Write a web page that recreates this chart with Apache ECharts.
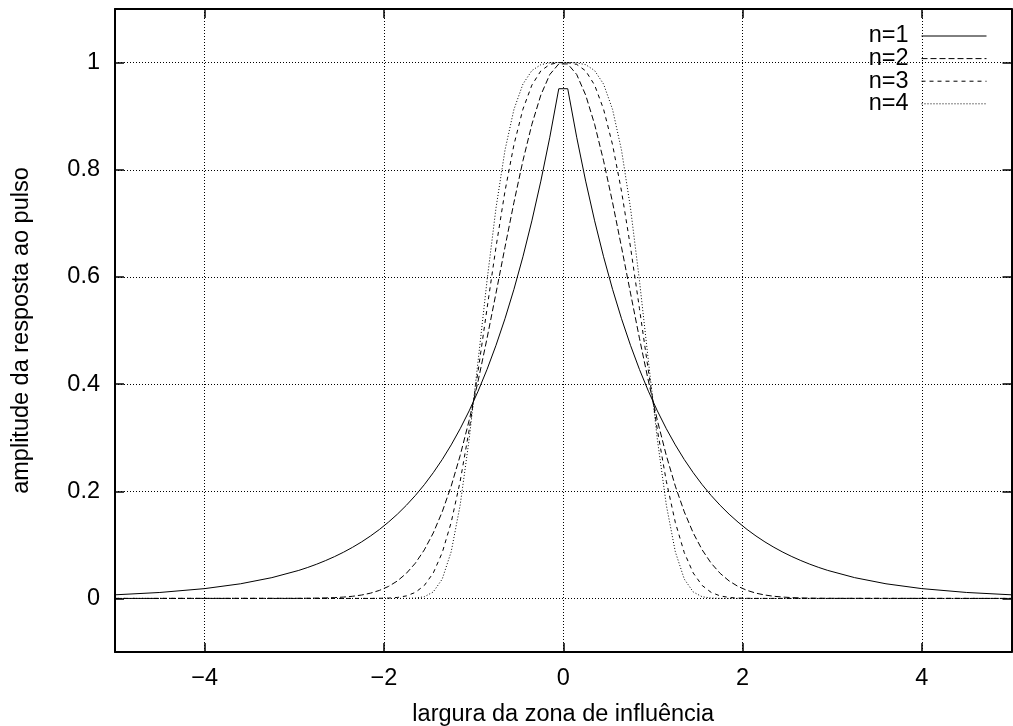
<!DOCTYPE html>
<html>
<head>
<meta charset="utf-8">
<script src="https://cdn.jsdelivr.net/npm/echarts@6/dist/echarts.min.js"></script>
<style>
html,body{margin:0;padding:0;background:#fff;}
#c{width:1013px;height:726px;}
</style>
</head>
<body>
<div id="c"></div>
<script>
const seriesNames = ['n=1', 'n=2', 'n=3', 'n=4'];
const xTickLabels = ['\u22124', '\u22122', '0', '2', '4'];
const yTickLabels = ['0', '0.2', '0.4', '0.6', '0.8', '1'];

const xOne = [-5, -4.5, -4, -3.6, -3.25,
  -2.95, -2.85, -2.75, -2.65, -2.55, -2.45, -2.35, -2.25, -2.15, -2.05,
  -1.95, -1.85, -1.75, -1.65, -1.55, -1.45, -1.35, -1.25, -1.15, -1.05,
  -0.95, -0.85, -0.75, -0.65, -0.55, -0.45, -0.35, -0.25, -0.15, -0.05,
  0.05, 0.15, 0.25, 0.35, 0.45, 0.55, 0.65, 0.75, 0.85, 0.95,
  1.05, 1.15, 1.25, 1.35, 1.45, 1.55, 1.65, 1.75, 1.85, 1.95,
  2.05, 2.15, 2.25, 2.35, 2.45, 2.55, 2.65, 2.75, 2.85, 2.95,
  3.25, 3.6, 4, 4.5, 5];
const yOne = [0.0067, 0.0111, 0.0183, 0.0273, 0.0388,
  0.0523, 0.0578, 0.0639, 0.0707, 0.0781, 0.0863, 0.0954, 0.1054, 0.1165, 0.1287,
  0.1423, 0.1572, 0.1738, 0.1920, 0.2122, 0.2346, 0.2592, 0.2865, 0.3166, 0.3499,
  0.3867, 0.4274, 0.4724, 0.5220, 0.5769, 0.6376, 0.7047, 0.7788, 0.8607, 0.9512,
  0.9512, 0.8607, 0.7788, 0.7047, 0.6376, 0.5769, 0.5220, 0.4724, 0.4274, 0.3867,
  0.3499, 0.3166, 0.2865, 0.2592, 0.2346, 0.2122, 0.1920, 0.1738, 0.1572, 0.1423,
  0.1287, 0.1165, 0.1054, 0.0954, 0.0863, 0.0781, 0.0707, 0.0639, 0.0578, 0.0523,
  0.0388, 0.0273, 0.0183, 0.0111, 0.0067];

const xCore = [-5,
  -2.95, -2.85, -2.75, -2.65, -2.55, -2.45, -2.35, -2.25, -2.15, -2.05,
  -1.95, -1.85, -1.75, -1.65, -1.55, -1.45, -1.35, -1.25, -1.15, -1.05,
  -0.95, -0.85, -0.75, -0.65, -0.55, -0.45, -0.35, -0.25, -0.15, -0.05,
  0.05, 0.15, 0.25, 0.35, 0.45, 0.55, 0.65, 0.75, 0.85, 0.95,
  1.05, 1.15, 1.25, 1.35, 1.45, 1.55, 1.65, 1.75, 1.85, 1.95,
  2.05, 2.15, 2.25, 2.35, 2.45, 2.55, 2.65, 2.75, 2.85, 2.95,
  5];
const yTwo = [0,
  0.0002, 0.0003, 0.0005, 0.0009, 0.0015, 0.0025, 0.0040, 0.0063, 0.0098, 0.0150,
  0.0223, 0.0326, 0.0468, 0.0657, 0.0905, 0.1221, 0.1616, 0.2096, 0.2665, 0.3321,
  0.4056, 0.4855, 0.5698, 0.6554, 0.7390, 0.8167, 0.8847, 0.9394, 0.9778, 0.9975,
  0.9975, 0.9778, 0.9394, 0.8847, 0.8167, 0.7390, 0.6554, 0.5698, 0.4855, 0.4056,
  0.3321, 0.2665, 0.2096, 0.1616, 0.1221, 0.0905, 0.0657, 0.0468, 0.0326, 0.0223,
  0.0150, 0.0098, 0.0063, 0.0040, 0.0025, 0.0015, 0.0009, 0.0005, 0.0003, 0.0002,
  0];
const yThree = [0,
  0, 0, 0, 0, 0, 0, 0, 0, 0, 0.0002,
  0.0006, 0.0018, 0.0047, 0.0112, 0.0241, 0.0474, 0.0854, 0.1418, 0.2185, 0.3142,
  0.4243, 0.5411, 0.6558, 0.7599, 0.8467, 0.9129, 0.9580, 0.9845, 0.9966, 0.9999,
  0.9999, 0.9966, 0.9845, 0.9580, 0.9129, 0.8467, 0.7599, 0.6558, 0.5411, 0.4243,
  0.3142, 0.2185, 0.1418, 0.0854, 0.0474, 0.0241, 0.0112, 0.0047, 0.0018, 0.0006,
  0.0002, 0, 0, 0, 0, 0, 0, 0, 0, 0,
  0];
const yFour = [0,
  0, 0, 0, 0, 0, 0, 0, 0, 0, 0,
  0, 0, 0.0001, 0.0006, 0.0031, 0.0120, 0.0361, 0.0871, 0.1740, 0.2965,
  0.4429, 0.5933, 0.7288, 0.8365, 0.9126, 0.9598, 0.9851, 0.9961, 0.9995, 1.0000,
  1.0000, 0.9995, 0.9961, 0.9851, 0.9598, 0.9126, 0.8365, 0.7288, 0.5933, 0.4429,
  0.2965, 0.1740, 0.0871, 0.0361, 0.0120, 0.0031, 0.0006, 0.0001, 0, 0,
  0, 0, 0, 0, 0, 0, 0, 0, 0, 0,
  0];

const FONT = 'Liberation Sans, Arial, Helvetica, sans-serif';
const FS = 23.5;

function pairs(xs, ys) { return xs.map((x, i) => [x, ys[i]]); }
function near(v, arr) {
  for (const s of arr) {
    const n = parseFloat(s.replace('\u2212', '-'));
    if (Math.abs(n - v) < 1e-6) return s;
  }
  return '';
}

const dashes = [null, [6, 3], [4, 4], [1, 2]];
const seriesData = [pairs(xOne, yOne), pairs(xCore, yTwo), pairs(xCore, yThree), pairs(xCore, yFour)];

const chart = echarts.init(document.getElementById('c'), null, {renderer: 'canvas'});
chart.setOption({
  animation: false,
  backgroundColor: '#ffffff',
  textStyle: {fontFamily: FONT},
  grid: {left: 115, right: 1.5, top: 9, bottom: 74, containLabel: false, outerBoundsMode: 'none'},
  legend: {
    orient: 'vertical',
    right: 21,
    top: 19,
    align: 'right',
    itemWidth: 65,
    itemHeight: 10,
    itemGap: -1.4,
    itemStyle: {opacity: 0},
    lineStyle: {width: 1},
    textStyle: {fontFamily: FONT, fontSize: FS, color: '#000', padding: [0, 8, 0, 0]},
    data: seriesNames
  },
  xAxis: [{
    type: 'value', min: -5, max: 5, splitNumber: 5,
    name: 'largura da zona de influência', nameLocation: 'middle', nameGap: 51,
    nameTextStyle: {fontFamily: FONT, fontSize: FS, color: '#000'},
    axisLine: {show: true, onZero: false, lineStyle: {color: '#000', width: 2}},
    axisTick: {show: true, inside: true, length: 9, lineStyle: {color: '#000', width: 1.5}},
    axisLabel: {show: true, margin: 15, fontFamily: FONT, fontSize: FS, color: '#000',
      showMinLabel: false, showMaxLabel: false, formatter: v => near(v, xTickLabels)},
    splitLine: {show: true, lineStyle: {color: '#000', width: 1, type: [1, 2]}}
  }, {
    type: 'value', min: -5, max: 5, splitNumber: 5, position: 'top',
    axisLine: {show: true, onZero: false, lineStyle: {color: '#000', width: 2}},
    axisTick: {show: true, inside: true, length: 9, lineStyle: {color: '#000', width: 1.5}},
    axisLabel: {show: false},
    splitLine: {show: false}
  }],
  yAxis: [{
    type: 'value', min: -0.1, max: 1.1, splitNumber: 6,
    name: 'amplitude da resposta ao pulso', nameLocation: 'middle', nameGap: 81, nameRotate: 90,
    nameTextStyle: {fontFamily: FONT, fontSize: FS, color: '#000'},
    axisLine: {show: true, onZero: false, lineStyle: {color: '#000', width: 2}},
    axisTick: {show: true, inside: true, length: 9, lineStyle: {color: '#000', width: 1.5}},
    axisLabel: {show: true, margin: 15, fontFamily: FONT, fontSize: FS, color: '#000',
      showMinLabel: false, showMaxLabel: false, formatter: v => near(v, yTickLabels)},
    splitLine: {show: true, lineStyle: {color: '#000', width: 1, type: [1, 2]}}
  }, {
    type: 'value', min: -0.1, max: 1.1, splitNumber: 6, position: 'right',
    axisLine: {show: true, onZero: false, lineStyle: {color: '#000', width: 2}},
    axisTick: {show: true, inside: true, length: 9, lineStyle: {color: '#000', width: 1.5}},
    axisLabel: {show: false},
    splitLine: {show: false}
  }],
  series: seriesNames.map((name, i) => ({
    name: name,
    type: 'line',
    xAxisIndex: 0,
    yAxisIndex: 0,
    data: seriesData[i],
    symbol: 'none',
    showSymbol: false,
    smooth: false,
    itemStyle: {color: '#000'},
    lineStyle: {color: '#000', width: 1, type: dashes[i] || 'solid'},
    z: 3 + i
  }))
});
</script>
</body>
</html>
